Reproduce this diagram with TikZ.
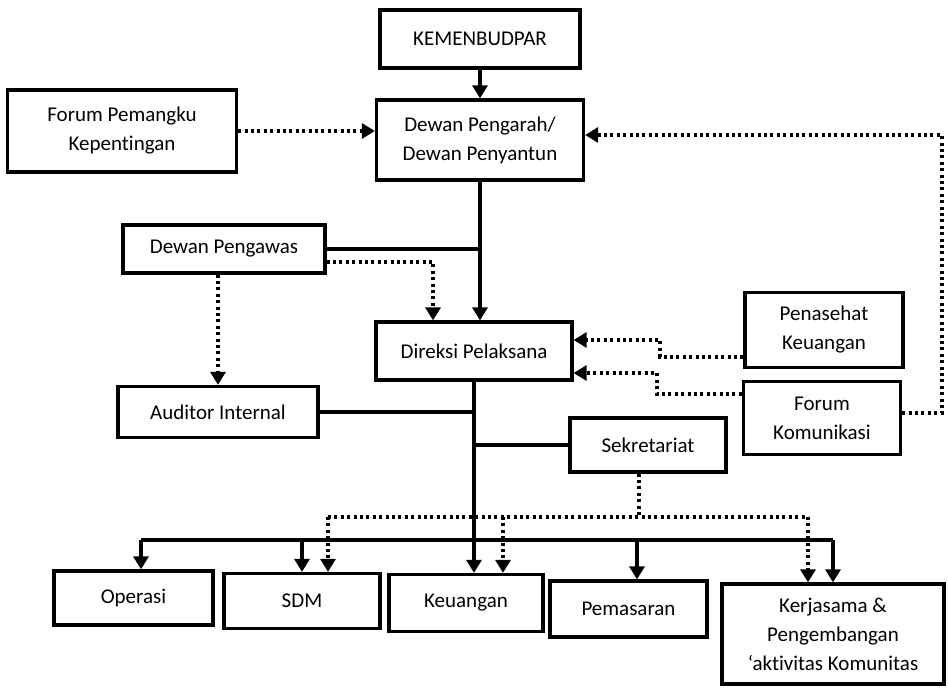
\documentclass[tikz,border=0pt]{standalone}
\usepackage{fontspec}
\setmainfont{Carlito}[Ligatures=NoCommon]
\usetikzlibrary{arrows.meta,calc}
\begin{document}
\begin{tikzpicture}[x=1pt,y=-1pt,
  box/.style={draw, line width=3.3pt, rectangle, align=center, inner sep=2pt,
     font=\fontsize{21}{29}\selectfont},
  conn/.style={line width=3.2pt},
  arr/.style={conn, -{Triangle[length=13pt,width=15pt]}},
  dotl/.style={line width=3.2pt, dash pattern=on 3pt off 3.4pt},
  dotarr/.style={dotl, -{Triangle[length=13pt,width=15pt]}}]
\useasboundingbox (0,0) rectangle (948,688);
% nodes
\node[box, minimum width=200pt, minimum height=58pt] (kem) at (480,39) {KEMENBUDPAR};
\node[box, minimum width=229pt, minimum height=82pt] (fpk) at (122,131) {Forum Pemangku\\Kepentingan};
\node[box, minimum width=207pt, minimum height=80pt] (dp) at (480,140) {Dewan Pengarah/\\Dewan Penyantun};
\node[box, minimum width=202pt, minimum height=48pt] (dpw) at (224,249) {Dewan Pengawas};
\node[box, minimum width=196pt, minimum height=58pt] (dir) at (474,351) {Direksi Pelaksana};
\node[box, minimum width=200pt, minimum height=51pt] (aud) at (218,412) {Auditor Internal};
\node[box, minimum width=158pt, minimum height=75pt] (pk) at (824,330) {Penasehat\\Keuangan};
\node[box, minimum width=157pt, minimum height=73pt] (fk) at (822,418) {Forum\\Komunikasi};
\node[box, minimum width=156pt, minimum height=54pt] (sek) at (648,445) {Sekretariat};
\node[box, minimum width=159pt, minimum height=54pt] (ops) at (133.5,598) {Operasi};
\node[box, minimum width=156pt, minimum height=55pt] (sdm) at (302,601) {SDM};
\node[box, minimum width=154pt, minimum height=57pt] (keu) at (466,603) {Keuangan};
\node[box, minimum width=157pt, minimum height=56pt] (pem) at (628.5,609) {Pemasaran};
\node[box, minimum width=222pt, minimum height=100pt] (kr) at (833,634) {Kerjasama \&\\Pengembangan\\‘aktivitas Komunitas};
% helper coordinates
\coordinate (c1) at (433,262);
\coordinate (p1) at (660,357);
\coordinate (p2) at (660,340);
\coordinate (q1) at (657,394);
\coordinate (q2) at (657,373);
\coordinate (r1) at (942,413);
\coordinate (r2) at (942,135);
\coordinate (s1) at (639,517);
\coordinate (sL) at (328,517);
\coordinate (sM) at (503,517);
\coordinate (sR) at (808,517);
\coordinate (bus) at (0,540);
\coordinate (bL) at (141,540);
\coordinate (bP) at (637,540);
% solid connectors
\draw[arr] (kem) -- (dp);
\draw[arr] (dp.south) -- (dp.south |- dir.north);
\draw[conn] (dpw.east) -- (dpw.east -| dp.south);
\draw[arr] (dir.south) -- (dir.south |- keu.north);
\draw[conn] (aud.east) -- (aud.east -| dir.south);
\draw[conn] (sek.west) -- (sek.west -| dir.south);
\draw[conn] (bL) -- (kr.north |- bus);
\draw[arr] (bL) -- (bL |- ops.north);
\draw[arr] (sdm.north |- bus) -- (sdm.north);
\draw[arr] (bP) -- (bP |- pem.north);
\draw[arr] (kr.north |- bus) -- (kr.north);
% dotted connectors
\draw[dotarr] (fpk.east) -- (fpk.east -| dp.west);
\draw[dotarr] (fk.east |- r1) -- (r1) -- (r2) -- (r2 -| dp.east);
\draw[dotarr] (dpw.east |- c1) -- (c1) -- (c1 |- dir.north);
\draw[dotarr] (dpw.south -| aud.north) -- (aud.north);
\draw[dotarr] (pk.west |- p1) -- (p1) -- (p2) -- (p2 -| dir.east);
\draw[dotarr] (fk.west |- q1) -- (q1) -- (q2) -- (q2 -| dir.east);
\draw[dotl] (sek.south -| s1) -- (s1);
\draw[dotl] (sL) -- (sR);
\draw[dotarr] (sL) -- (sL |- sdm.north);
\draw[dotarr] (sM) -- (sM |- keu.north);
\draw[dotarr] (sR) -- (sR |- kr.north);
\end{tikzpicture}
\end{document}
